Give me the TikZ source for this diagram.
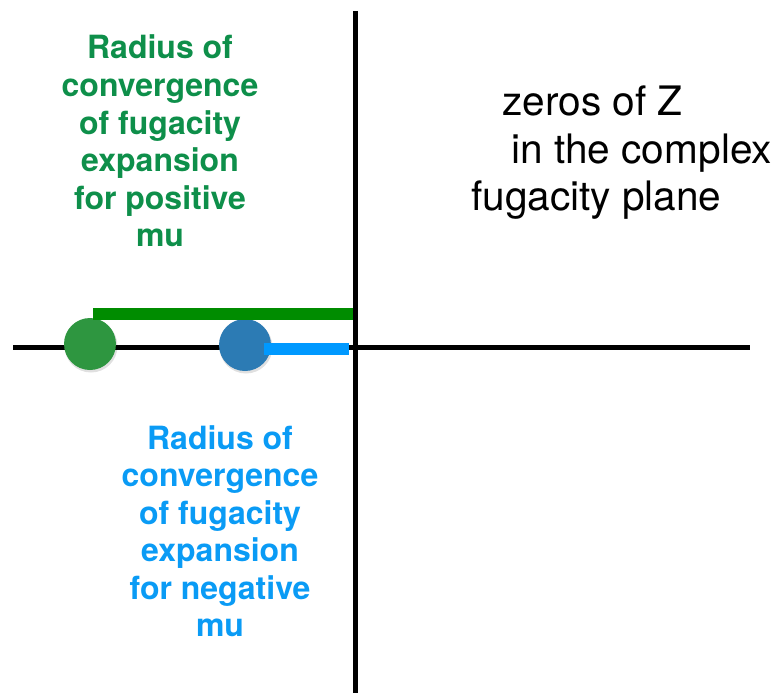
\documentclass[tikz,border=0pt]{standalone}
\usepackage{fontspec}
\setmainfont{TeX Gyre Heros}
\definecolor{txtgreen}{RGB}{14,143,74}
\definecolor{bargreen}{RGB}{0,140,0}
\definecolor{dotgreen}{RGB}{46,150,64}
\definecolor{txtblue}{RGB}{10,155,245}
\definecolor{barblue}{RGB}{0,153,255}
\definecolor{dotblue}{RGB}{44,123,180}
\tikzset{
  axis/.style={line width=5pt, black},
  bar/.style={line width=12pt, line cap=butt},
  dot/.style={circle, inner sep=0pt, minimum size=52pt},
  shade/.style={circle, inner sep=0pt, minimum size=53pt, fill=black, opacity=0.12},
  gtxt/.style={anchor=base, inner sep=0pt, text=txtgreen, font=\fontsize{32}{37.5}\selectfont\bfseries},
  btxt/.style={anchor=base, inner sep=0pt, text=txtblue, font=\fontsize{32}{37.5}\selectfont\bfseries},
  ktxt/.style={anchor=base west, inner sep=0pt, text=black, font=\fontsize{40.6}{47}\selectfont},
}
\begin{document}
\begin{tikzpicture}[x=1pt, y=-1pt]
\useasboundingbox (0,0) rectangle (777,693);
% axes
\coordinate (hl) at (13,347);
\coordinate (hr) at (750,347);
\coordinate (vt) at (355.5,11);
\coordinate (vb) at (355.5,693);
\draw[axis] (hl) -- (hr);
\draw[axis] (vt) -- (vb);
% zeros
\node[shade] (gs) at (91,346) {};
\node[shade] (bs) at (246,347) {};
\node[dot, fill=dotgreen] (gdot) at (90,344) {};
\node[dot, fill=dotblue] (bdot) at (245,345) {};
% radius bars
\coordinate (gbl) at (93,313.5);
\coordinate (gbr) at (353,313.5);
\coordinate (bbl) at (264,348.5);
\coordinate (bbr) at (349,348.5);
\draw[bar, bargreen] (gbl) -- (gbr);
\draw[bar, barblue] (bbl) -- (bbr);
% green label
\node[gtxt] (g1) at (160,59) {Radius of};
\node[gtxt] (g2) at (160,96.5) {convergence};
\node[gtxt] (g3) at (160,134) {of fugacity};
\node[gtxt] (g4) at (160,171.5) {expansion};
\node[gtxt] (g5) at (160,209) {for positive};
\node[gtxt] (g6) at (160,246.5) {mu};
% blue label
\node[btxt] (b1) at (220,449) {Radius of};
\node[btxt] (b2) at (220,486.5) {convergence};
\node[btxt] (b3) at (220,524) {of fugacity};
\node[btxt] (b4) at (220,561.5) {expansion};
\node[btxt] (b5) at (220,599) {for negative};
\node[btxt] (b6) at (220,636.5) {mu};
% black label
\node[ktxt] (k1) at (502,115) {zeros of Z};
\node[ktxt] (k2) at (511,163) {in the complex};
\node[ktxt] (k3) at (471,210) {fugacity plane};
\end{tikzpicture}
\end{document}
